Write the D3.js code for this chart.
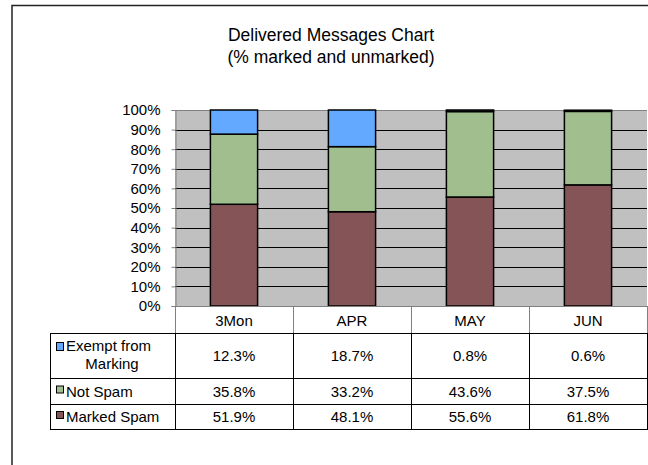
<!DOCTYPE html>
<html>
<head>
<meta charset="utf-8">
<script src="https://cdn.jsdelivr.net/npm/d3@7"></script>
<style>
  body { margin: 0; background: #fff; }
  svg { display: block; font-family: Arial, "Liberation Sans", sans-serif; }
</style>
</head>
<body>
<div id="chart"></div>
<script>
// datos del grafico
const categories = ["3Mon", "APR", "MAY", "JUN"];
const seriesNames = ["Marked Spam", "Not Spam", "Exempt from Marking"];
const markedSpam = [51.9, 48.1, 55.6, 61.8];
const notSpam = [35.8, 33.2, 43.6, 37.5];
const exempt = [12.3, 18.7, 0.8, 0.6];
const yTicks = [0, 10, 20, 30, 40, 50, 60, 70, 80, 90, 100];

const width = 648, height = 465;
const fs = 15;
const colors = { "Marked Spam": "#855456", "Not Spam": "#a1be8f", "Exempt from Marking": "#62a9ff" };

const svg = d3.select("#chart").append("svg")
  .attr("width", width).attr("height", height);

// borde exterior
svg.append("path")
  .attr("d", "M12,470 L12,5.5 L660,5.5")
  .attr("fill", "none").attr("stroke", "#222").attr("stroke-width", 1.5);

// titulo
const title = svg.append("text").attr("text-anchor", "middle").attr("font-size", 17.5).attr("fill", "#000");
title.append("tspan").attr("x", 331).attr("y", 41).text("Delivered Messages Chart");
title.append("tspan").attr("x", 331).attr("y", 63).text("(% marked and unmarked)");

// escalas
const x = d3.scaleBand().domain(categories).range([175, 647]);
const y = d3.scaleLinear().domain([0, 100]).range([306, 110]);
const barW = x.bandwidth() * 0.4;

// area del grafico
svg.append("rect")
  .attr("x", x.range()[0]).attr("y", y(100))
  .attr("width", x.range()[1] - x.range()[0]).attr("height", y(0) - y(100))
  .attr("fill", "#c0c0c0");

svg.append("g").selectAll("line")
  .data(yTicks.filter(d => d > 0 && d < 100))
  .join("line")
  .attr("x1", x.range()[0]).attr("x2", x.range()[1])
  .attr("y1", d => Math.round(y(d)) + 0.5).attr("y2", d => Math.round(y(d)) + 0.5)
  .attr("stroke", "#000");

svg.append("line")
  .attr("x1", x.range()[0]).attr("x2", x.range()[1])
  .attr("y1", y(100) + 0.5).attr("y2", y(100) + 0.5)
  .attr("stroke", "#808080");

// eje y
const yAxis = svg.append("g")
  .attr("transform", `translate(${x.range()[0] + 0.5},0)`)
  .call(d3.axisLeft(y).tickValues(yTicks).tickFormat(d => d + "%").tickSize(4).tickPadding(11));
yAxis.select(".domain").attr("stroke", "#808080");
yAxis.selectAll(".tick line").attr("stroke", "#808080");
yAxis.selectAll(".tick text").attr("font-size", fs).attr("fill", "#000")
  .attr("font-family", "Arial, 'Liberation Sans', sans-serif");

// barras apiladas
const rows = categories.map((c, i) => ({
  cat: c, "Marked Spam": markedSpam[i], "Not Spam": notSpam[i], "Exempt from Marking": exempt[i]
}));
const stack = d3.stack().keys(seriesNames)(rows);

svg.append("g").selectAll("g")
  .data(stack)
  .join("g")
  .attr("fill", d => colors[d.key])
  .selectAll("rect")
  .data(d => d)
  .join("rect")
  .attr("x", d => x(d.data.cat) + (x.bandwidth() - barW) / 2)
  .attr("y", d => y(d[1]))
  .attr("width", barW)
  .attr("height", d => y(d[0]) - y(d[1]))
  .attr("stroke", "#000").attr("stroke-width", 1.5);

// eje x como linea base
svg.append("line")
  .attr("x1", x.range()[0]).attr("x2", x.range()[1])
  .attr("y1", y(0) + 0.5).attr("y2", y(0) + 0.5)
  .attr("stroke", "#808080");

// tabla de datos
const rowTop = [333, 378, 404];
const rowBot = [378, 404, 429];
const tableRows = [
  { name: "Exempt from Marking", vals: exempt, lines: ["Exempt from", "Marking"] },
  { name: "Not Spam", vals: notSpam, lines: ["Not Spam"] },
  { name: "Marked Spam", vals: markedSpam, lines: ["Marked Spam"] }
];
const legendLeft = 50;

// cabecera
svg.append("g").selectAll("line")
  .data(categories)
  .join("line")
  .attr("x1", d => x(d) + x.bandwidth() + 0.5).attr("x2", d => x(d) + x.bandwidth() + 0.5)
  .attr("y1", y(0)).attr("y2", rowTop[0])
  .attr("stroke", "#808080");
svg.append("line")
  .attr("x1", x.range()[0] + 0.5).attr("x2", x.range()[0] + 0.5)
  .attr("y1", y(0)).attr("y2", rowTop[0]).attr("stroke", "#808080");

svg.append("g").selectAll("text")
  .data(categories)
  .join("text")
  .attr("x", d => x(d) + x.bandwidth() / 2)
  .attr("y", 325.5)
  .attr("text-anchor", "middle").attr("font-size", fs)
  .text(d => d);

// lineas horizontales de la tabla
[rowTop[0], ...rowBot].forEach(yy => {
  svg.append("line")
    .attr("x1", legendLeft).attr("x2", x.range()[1] + 1)
    .attr("y1", yy + 0.5).attr("y2", yy + 0.5)
    .attr("stroke", "#000");
});

// lineas verticales de la tabla
[legendLeft, x.range()[0], ...categories.map(c => x(c) + x.bandwidth())].forEach(xx => {
  svg.append("line")
    .attr("x1", xx + 0.5).attr("x2", xx + 0.5)
    .attr("y1", rowTop[0]).attr("y2", rowBot[2] + 1)
    .attr("stroke", "#000");
});

tableRows.forEach((r, i) => {
  const mid = (rowTop[i] + rowBot[i]) / 2;
  const g = svg.append("g");
  if (r.lines.length === 2) {
    g.append("rect")
      .attr("x", 56.5).attr("y", 342.5).attr("width", 7).attr("height", 8)
      .attr("fill", colors[r.name]).attr("stroke", "#000");
    g.append("text").attr("x", 66).attr("y", 351).attr("font-size", fs).text(r.lines[0]);
    g.append("text").attr("x", 112).attr("y", 369).attr("text-anchor", "middle")
      .attr("font-size", fs).text(r.lines[1]);
  } else {
    g.append("rect")
      .attr("x", 56.5).attr("y", mid - 5).attr("width", 7).attr("height", 7)
      .attr("fill", colors[r.name]).attr("stroke", "#000");
    g.append("text").attr("x", 66).attr("y", mid + 5.5).attr("font-size", fs).text(r.lines[0]);
  }
  g.selectAll("text.val")
    .data(r.vals)
    .join("text")
    .attr("class", "val")
    .attr("x", (d, j) => x(categories[j]) + x.bandwidth() / 2)
    .attr("y", mid + 5.5)
    .attr("text-anchor", "middle").attr("font-size", fs)
    .text(d => d.toFixed(1) + "%");
});
</script>
</body>
</html>
